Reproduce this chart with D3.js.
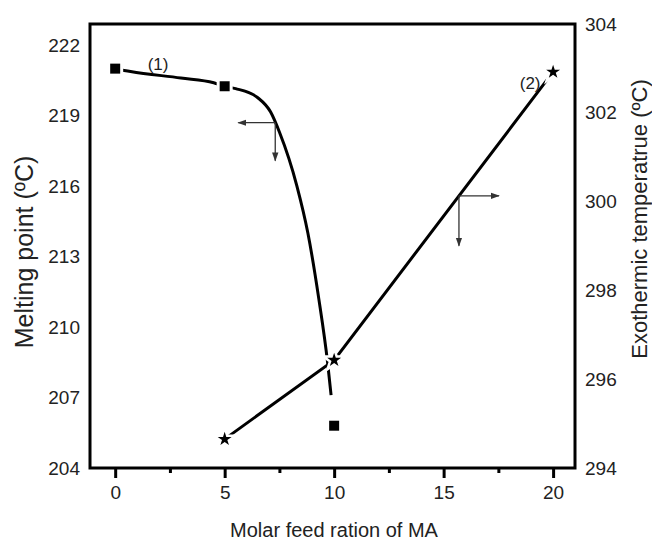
<!doctype html>
<html>
<head>
<script src="https://d3js.org/d3.v7.min.js"></script>
<style>
  body { margin: 0; background: #fff; }
  text { font-family: "Liberation Sans", Arial, Helvetica, sans-serif; fill: #222; }
</style>
</head>
<body>
<svg width="652" height="541"></svg>
<script>
// data
var feedRatio = [0, 5, 10, 20];
var meltX = [0, 5, 10];
var meltPoint = [221.0, 220.25, 205.8];
var exoX = [5, 10, 20];
var exoTemp = [294.65, 296.43, 302.92];

// hand-drawn fit through the melting points
var fitX = [0, 0.7, 3.0, 4.5, 5.0, 5.5, 6.5, 7.1, 7.5, 8.3, 8.8, 9.3, 9.7, 9.86];
var fitY = [221.0, 220.88, 220.6, 220.4, 220.25, 220.15, 219.77, 219.15, 218.3, 216.0, 214.0, 211.2, 208.5, 207.1];

var xTicks = [0, 5, 10, 15, 20];
var xMinor = [2.5, 7.5, 12.5, 17.5];
var leftTicks = [204, 207, 210, 213, 216, 219, 222];
var rightTicks = [294, 296, 298, 300, 302, 304];

var svg = d3.select("svg"),
    plotL = 90, plotT = 24, plotR = 575, plotB = 468;

var x = d3.scaleLinear().domain([-1.15, 21]).range([plotL, plotR]),
    yL = d3.scaleLinear().domain([204, 222.9]).range([plotB, plotT]),
    yR = d3.scaleLinear().domain([294, 304]).range([plotB, plotT]);

// arrow head
svg.append("defs").append("marker")
    .attr("id", "head")
    .attr("viewBox", "0 0 10 10")
    .attr("refX", 9).attr("refY", 5)
    .attr("markerWidth", 7).attr("markerHeight", 7)
    .attr("orient", "auto")
  .append("path")
    .attr("d", "M0,1.5L10,5L0,8.5Z")
    .style("fill", "#333");

// axes
var gx = svg.append("g")
    .attr("transform", "translate(0," + plotB + ")")
    .call(d3.axisBottom(x).tickValues(xTicks).tickSize(10).tickPadding(8));
var gxm = svg.append("g")
    .attr("transform", "translate(0," + plotB + ")")
    .call(d3.axisBottom(x).tickValues(xMinor).tickSize(5).tickFormat(""));
var gl = svg.append("g")
    .attr("transform", "translate(" + plotL + ",0)")
    .call(d3.axisLeft(yL).tickValues(leftTicks).tickSize(0).tickPadding(10));
var gr = svg.append("g")
    .attr("transform", "translate(" + plotR + ",0)")
    .call(d3.axisRight(yR).tickValues(rightTicks).tickSize(0).tickPadding(10));

[gx, gxm, gl, gr].forEach(function(g) {
    g.select(".domain").remove();
    g.selectAll("line").style("stroke", "#000").style("stroke-width", 3);
    g.selectAll("text").style("font-size", "19px").style("fill", "#222");
});

// frame
svg.append("rect")
    .attr("x", plotL).attr("y", plotT)
    .attr("width", plotR - plotL).attr("height", plotB - plotT)
    .style("fill", "none")
    .style("stroke", "#000")
    .style("stroke-width", 3);

// curve (1)
var fit = d3.range(fitX.length).map(function(i) { return [fitX[i], fitY[i]]; });
svg.append("path")
    .datum(fit)
    .attr("d", d3.line()
        .x(function(d) { return x(d[0]); })
        .y(function(d) { return yL(d[1]); })
        .curve(d3.curveMonotoneX))
    .style("fill", "none")
    .style("stroke", "#000")
    .style("stroke-width", 3);

// line (2)
var exo = exoX.map(function(v, i) { return [v, exoTemp[i]]; });
svg.append("path")
    .datum(exo)
    .attr("d", d3.line()
        .x(function(d) { return x(d[0]); })
        .y(function(d) { return yR(d[1]); }))
    .style("fill", "none")
    .style("stroke", "#000")
    .style("stroke-width", 3);

// markers with a white halo
svg.append("g").selectAll("path")
    .data(meltX.map(function(v, i) { return [v, meltPoint[i]]; }))
    .enter().append("path")
    .attr("d", d3.symbol().type(d3.symbolSquare).size(100))
    .attr("transform", function(d) { return "translate(" + x(d[0]) + "," + yL(d[1]) + ")"; })
    .style("fill", "#000")
    .style("stroke", "#fff")
    .style("stroke-width", 6)
    .style("paint-order", "stroke");

svg.append("g").selectAll("path")
    .data(exo)
    .enter().append("path")
    .attr("d", d3.symbol().type(d3.symbolStar).size(60))
    .attr("transform", function(d) { return "translate(" + x(d[0]) + "," + yR(d[1]) + ")"; })
    .style("fill", "#000")
    .style("stroke", "#fff")
    .style("stroke-width", 5)
    .style("paint-order", "stroke");

// axis pointers
function pointer(px, py, dx, dv) {
    svg.append("line")
        .attr("x1", px).attr("y1", py).attr("x2", px + dx).attr("y2", py)
        .attr("marker-end", "url(#head)")
        .style("stroke", "#333").style("stroke-width", 1.3);
    svg.append("line")
        .attr("x1", px).attr("y1", py).attr("x2", px).attr("y2", py + dv)
        .attr("marker-end", "url(#head)")
        .style("stroke", "#333").style("stroke-width", 1.3);
}
pointer(x(7.31), yL(218.7), -37, 38);
pointer(x(15.7), yR(300.13), 40, 50);

// series labels
svg.append("text")
    .attr("x", x(1.96)).attr("y", yL(221.2)).attr("dy", "0.35em")
    .attr("text-anchor", "middle")
    .style("font-size", "17px")
    .text("(1)");
svg.append("text")
    .attr("x", x(18.95)).attr("y", yR(302.67)).attr("dy", "0.35em")
    .attr("text-anchor", "middle")
    .style("font-size", "17px")
    .text("(2)");

// axis titles
svg.append("text")
    .attr("x", 334).attr("y", 537)
    .attr("text-anchor", "middle")
    .style("font-size", "20px")
    .text("Molar feed ration of MA");
svg.append("text")
    .attr("transform", "translate(33,252)rotate(-90)")
    .attr("text-anchor", "middle")
    .style("font-size", "25px")
    .text("Melting point (\u00baC)");
svg.append("text")
    .attr("transform", "translate(647,219)rotate(-90)")
    .attr("text-anchor", "middle")
    .style("font-size", "22px")
    .text("Exothermic temperatrue (\u00baC)");
</script>
</body>
</html>
